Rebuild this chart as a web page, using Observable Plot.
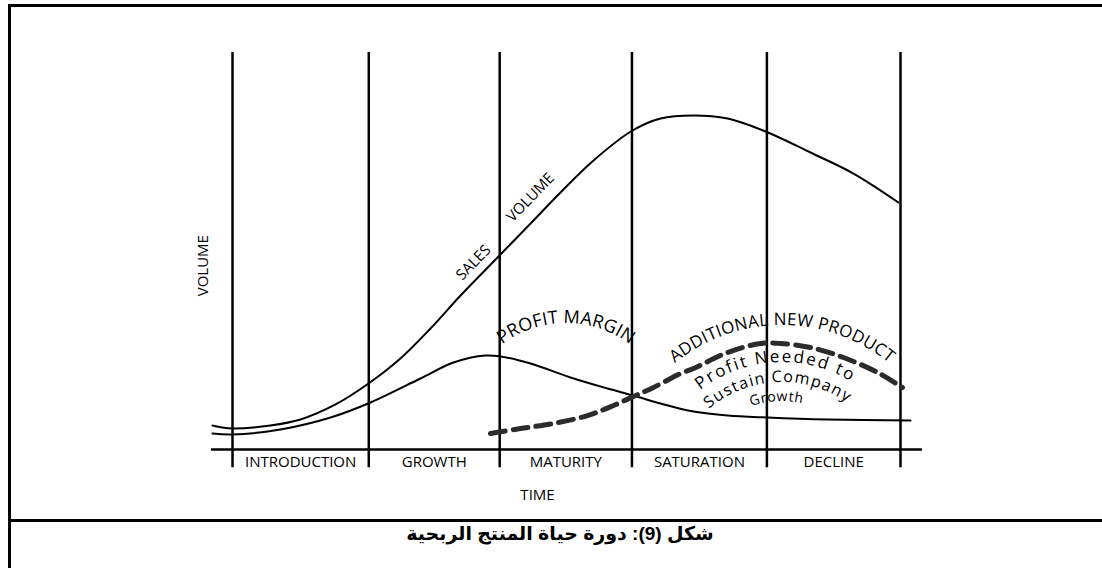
<!DOCTYPE html>
<html><head><meta charset="utf-8">
<script src="https://cdn.jsdelivr.net/npm/d3@7"></script>
<script src="https://cdn.jsdelivr.net/npm/@observablehq/plot@0.6"></script>
<style>
html,body{margin:0;padding:0;background:#fff;width:1102px;height:568px;overflow:hidden;}
#frame{position:absolute;left:8px;top:4px;width:1110px;height:600px;border-top:3px solid #000;border-left:3px solid #000;}
#sep{position:absolute;left:8px;top:519px;width:1110px;height:0;border-top:3px solid #000;}
#chart{position:absolute;left:0;top:0;}
#caption{position:absolute;top:522px;left:260px;width:600px;text-align:center;direction:rtl;font:bold 19px "Liberation Sans",Arial,"DejaVu Sans",sans-serif;color:#000;}
</style></head>
<body>
<div id="frame"></div>
<div id="sep"></div>
<div id="chart"></div>
<div id="caption">شكل (9): دورة حياة المنتج الربحية</div>
<script>
// ---- data (time in stage units, volume 0-100) ----
const stageNames = ["INTRODUCTION", "GROWTH", "MATURITY", "SATURATION", "DECLINE"];
const stageBounds = [0, 1.02, 2.0, 2.99, 4.0, 5.0];

const salesT = [-0.15, -0.075, 0, 0.284, 0.509, 0.771, 1.018, 1.257, 1.482, 1.707, 1.991, 2.231, 2.455, 2.702, 2.994, 3.204, 3.451, 3.705, 3.99, 4.326, 4.648, 4.985];
const salesV = [6.05, 5.54, 5.29, 6.05, 7.56, 11.34, 16.62, 22.92, 30.48, 38.79, 48.61, 56.93, 64.74, 72.8, 80.35, 83.38, 84.13, 83.38, 80.1, 74.81, 69.52, 62.22];

const profitT = [-0.15, 0, 0.359, 0.734, 1.033, 1.407, 1.654, 1.894, 2.006, 2.231, 2.53, 2.807, 3.001, 3.204, 3.451, 3.705, 4.004, 4.454, 5.075];
const profitV = [4.03, 3.78, 5.04, 8.06, 11.84, 17.88, 21.91, 23.68, 23.43, 21.66, 18.14, 15.37, 13.6, 11.59, 9.57, 8.56, 8.06, 7.56, 7.3];

const newT = [1.931, 2.156, 2.403, 2.657, 2.852, 3.001, 3.151, 3.353, 3.451, 3.705, 3.952, 4.102, 4.326, 4.573, 4.828, 5.015];
const newV = [4.03, 5.29, 6.55, 8.56, 11.08, 13.35, 15.62, 19.14, 20.4, 24.43, 26.7, 26.7, 25.69, 23.17, 19.4, 15.62];

// ---- build tables ----
const sales = salesT.map((t, i) => ({t, v: salesV[i]}));
const profit = profitT.map((t, i) => ({t, v: profitV[i]}));
const newProduct = newT.map((t, i) => ({t, v: newV[i]}));
const stageMid = stageNames.map((name, i) => ({name, t: (stageBounds[i] + stageBounds[i + 1]) / 2}));

const font = "'Open Sans', 'DejaVu Sans', sans-serif";

const axisLabels = [
  {label: "TIME", t: 2.283, v: -11.6, rot: 0},
  {label: "VOLUME", t: -0.217, v: 46.3, rot: -90}
];
const curveLabels = [
  {label: "SALES", t: 1.804, v: 47.1},
  {label: "VOLUME", t: 2.23, v: 63.5}
];

const chart = Plot.plot({
  width: 1102, height: 520,
  marginLeft: 232, marginRight: 202, marginTop: 52, marginBottom: 71,
  x: {domain: [0, 5], axis: null},
  y: {domain: [0, 100], axis: null},
  style: {fontFamily: font, background: "transparent", overflow: "visible", color: "#000"},
  marks: [
    Plot.ruleX(stageBounds, {y1: -4.6, y2: 100, stroke: "#000", strokeWidth: 2.5}),
    Plot.ruleY([0], {x1: -0.157, x2: 5.165, stroke: "#000", strokeWidth: 2.5}),
    Plot.line(sales, {x: "t", y: "v", curve: "catmull-rom", stroke: "#000", strokeWidth: 2}),
    Plot.line(profit, {x: "t", y: "v", curve: "catmull-rom", stroke: "#000", strokeWidth: 2}),
    Plot.line(newProduct, {x: "t", y: "v", curve: "catmull-rom", stroke: "#2b2b2b", strokeWidth: 5, strokeDasharray: "15,8"}),
    Plot.text(stageMid, {x: "t", y: -3.3, text: "name", fontSize: 15, fill: "#000"}),
    Plot.text(axisLabels, {x: "t", y: "v", text: "label", rotate: "rot", fontSize: 15, fill: "#000"}),
    Plot.text(curveLabels, {x: "t", y: "v", text: "label", rotate: -46, fontSize: 15, fill: "#000"})
  ]
});
document.getElementById("chart").append(chart);

// ---- curved annotations placed through the chart's scales ----
const sx = chart.scale("x"), sy = chart.scale("y");
const svg = d3.select(chart);
const arcLabels = [
  {id: "arcPM", text: "PROFIT MARGIN", t: 2.5, v: 5.04, r: 106, a: 0, size: 18, len: 137},
  {id: "arcANP", text: "ADDITIONAL NEW PRODUCT", t: 4.117, v: -11.59, r: 170, a: 0, size: 17, len: 232},
  {id: "arcPN", text: "Profit Needed to", t: 4.117, v: -11.59, r: 133, a: -3.1, size: 17, len: 160},
  {id: "arcSC", text: "Sustain Company", t: 4.117, v: -11.59, r: 113, a: -2.4, size: 16, len: 148},
  {id: "arcG", text: "Growth", t: 4.117, v: -11.59, r: 94, a: -3.2, size: 14, len: 52}
];
const defs = svg.append("defs");
arcLabels.forEach(d => {
  const cx = sx.apply(d.t), cy = sy.apply(d.v);
  const a0 = (d.a - 85) * Math.PI / 180, a1 = (d.a + 85) * Math.PI / 180;
  const p0 = [cx + d.r * Math.sin(a0), cy - d.r * Math.cos(a0)];
  const p1 = [cx + d.r * Math.sin(a1), cy - d.r * Math.cos(a1)];
  defs.append("path").attr("id", d.id).attr("d", `M${p0[0]},${p0[1]}A${d.r},${d.r} 0 0 1 ${p1[0]},${p1[1]}`);
  const text = svg.append("text").attr("font-size", d.size).attr("font-family", font).attr("fill", "#000");
  text.append("textPath").attr("href", "#" + d.id).attr("startOffset", "50%").attr("text-anchor", "middle").text(d.text);
  const natural = text.node().getComputedTextLength();
  const ls = (d.len - natural) / (d.text.length - 1);
  text.attr("letter-spacing", ls);
});
</script>
</body></html>
